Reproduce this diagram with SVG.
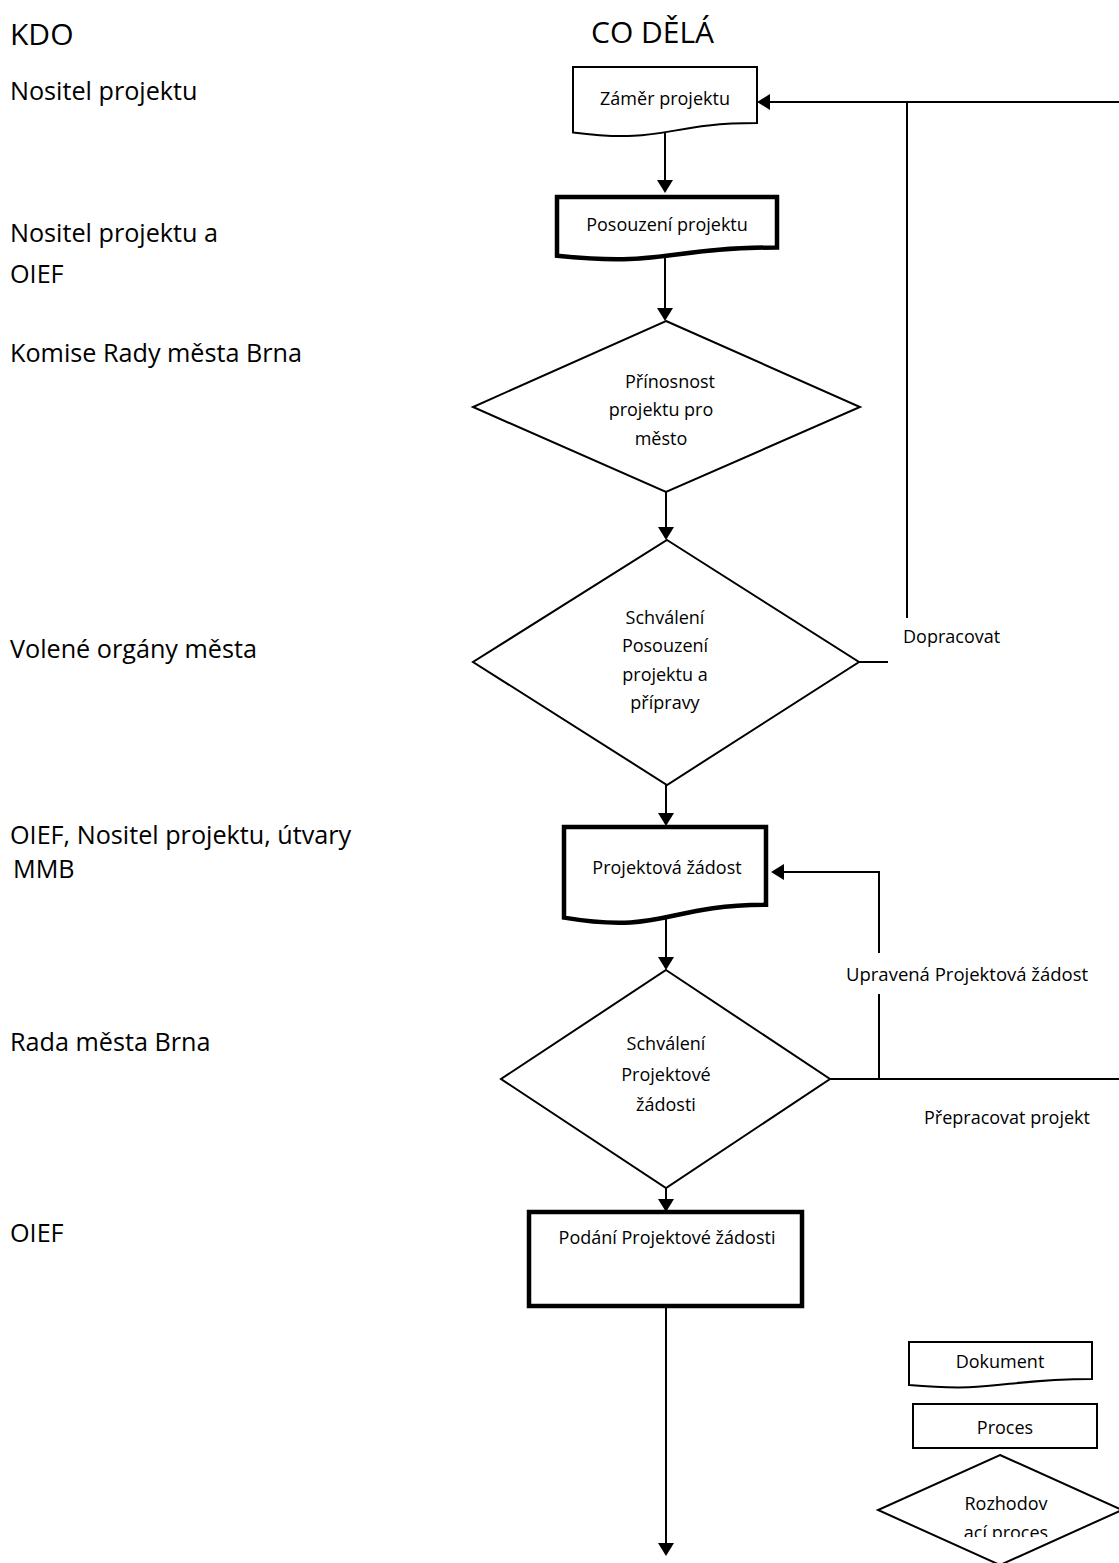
<svg xmlns="http://www.w3.org/2000/svg" width="1119" height="1563" viewBox="0 0 1119 1563">
<style>
text{font-family:"Open Sans","Noto Sans","Liberation Sans",sans-serif;fill:#000}
.h{font-size:30px}
.l{font-size:25.2px}
.t{font-size:18px}
.c{text-anchor:middle}
.thin{fill:#fff;stroke:#000;stroke-width:2}
.thick{fill:#fff;stroke:#000;stroke-width:4.5}
.ln{fill:none;stroke:#000;stroke-width:2}
</style>
<defs>
<marker id="ah" markerUnits="userSpaceOnUse" viewBox="0 0 13 16" markerWidth="13" markerHeight="16" refX="9" refY="8" orient="auto">
<path d="M0,0 L13,8 L0,16 Z" fill="#000"/>
</marker>
<clipPath id="clipLeg"><rect x="870" y="1450" width="249" height="87"/></clipPath>
</defs>
<rect width="1119" height="1563" fill="#fff"/>

<g id="headers">
<text class="h" x="10" y="45">KDO</text>
<text class="h" x="591" y="43">CO DĚLÁ</text>
</g>

<g id="lanes">
<text class="l" x="10" y="100">Nositel projektu</text>
<text class="l" x="10" y="242">Nositel projektu a</text>
<text class="l" x="10" y="283">OIEF</text>
<text class="l" x="10" y="362">Komise Rady města Brna</text>
<text class="l" x="10" y="658">Volené orgány města</text>
<text class="l" x="10" y="844">OIEF, Nositel projektu, útvary</text>
<text class="l" x="13" y="878">MMB</text>
<text class="l" x="10" y="1051">Rada města Brna</text>
<text class="l" x="10" y="1242">OIEF</text>
</g>

<g id="connectors">
<line class="ln" x1="665" y1="132" x2="665" y2="189" marker-end="url(#ah)"/>
<line class="ln" x1="665" y1="256" x2="665" y2="317" marker-end="url(#ah)"/>
<line class="ln" x1="666" y1="492" x2="666" y2="536" marker-end="url(#ah)"/>
<line class="ln" x1="666" y1="785" x2="666" y2="822" marker-end="url(#ah)"/>
<line class="ln" x1="666" y1="917" x2="666" y2="966" marker-end="url(#ah)"/>
<line class="ln" x1="666" y1="1188" x2="666" y2="1208" marker-end="url(#ah)"/>
<line class="ln" x1="666" y1="1306" x2="666" y2="1552" marker-end="url(#ah)"/>
<polyline class="ln" points="1119,102 761,102" marker-end="url(#ah)"/>
<line class="ln" x1="907" y1="102" x2="907" y2="618"/>
<line class="ln" x1="859" y1="662" x2="888" y2="662"/>
<text class="t" x="903" y="643">Dopracovat</text>
<line class="ln" x1="830" y1="1079" x2="1119" y2="1079"/>
<line class="ln" x1="879" y1="1079" x2="879" y2="994"/>
<polyline class="ln" points="879,953 879,872 775,872" marker-end="url(#ah)"/>
<text class="t" x="846" y="981" style="font-size:18.5px">Upravená Projektová žádost</text>
<text class="t" x="924" y="1124">Přepracovat projekt</text>
</g>

<g id="zamer">
<path class="thin" d="M573,67 H757 V123.1 C665,123.1 665,144.5 573,132.4 Z"/>
<text class="t c" x="665" y="105">Záměr projektu</text>
</g>

<g id="posouzeni">
<path class="thick" d="M557,197 H777 V247.5 C667,247.5 667,266.8 557,255.8 Z"/>
<text class="t c" x="667" y="231">Posouzení projektu</text>
</g>

<g id="prinosnost">
<polygon class="thin" points="666,321 860,407 666,492 473,407"/>
<text class="t c" x="670" y="388">Přínosnost</text>
<text class="t c" x="661" y="416">projektu pro</text>
<text class="t c" x="661" y="445">město</text>
</g>

<g id="schvaleni1">
<polygon class="thin" points="667,540 859,662 667,785 473,662"/>
<text class="t c" x="665" y="624">Schválení</text>
<text class="t c" x="665" y="652">Posouzení</text>
<text class="t c" x="665" y="681">projektu a</text>
<text class="t c" x="665" y="709">přípravy</text>
</g>

<g id="projektova-zadost">
<path class="thick" d="M564,827 H766 V904.8 C665,904.8 665,934.4 564,917.6 Z"/>
<text class="t c" x="667" y="874">Projektová žádost</text>
</g>

<g id="schvaleni2">
<polygon class="thin" points="666,970 830,1079 666,1188 501,1079"/>
<text class="t c" x="666" y="1050">Schválení</text>
<text class="t c" x="666" y="1081">Projektové</text>
<text class="t c" x="666" y="1111">žádosti</text>
</g>

<g id="podani">
<rect class="thick" x="529" y="1212" width="273" height="94"/>
<text class="t c" x="667" y="1244">Podání Projektové žádosti</text>
</g>

<g id="legend-dokument">
<path class="thin" d="M909,1342 H1092 V1378.9 C1000,1378.9 1000,1392.9 909,1385 Z"/>
<text class="t c" x="1000" y="1368">Dokument</text>
</g>

<g id="legend-proces">
<rect class="thin" x="913" y="1404" width="184" height="44"/>
<text class="t c" x="1005" y="1434">Proces</text>
</g>

<g id="legend-rozhodovaci">
<polygon class="thin" points="1000,1455 1122,1510 1000,1565 878,1510"/>
<g clip-path="url(#clipLeg)">
<text class="t c" x="1006" y="1510">Rozhodov</text>
<text class="t c" x="1006" y="1539">ací proces</text>
</g>
</g>
</svg>
